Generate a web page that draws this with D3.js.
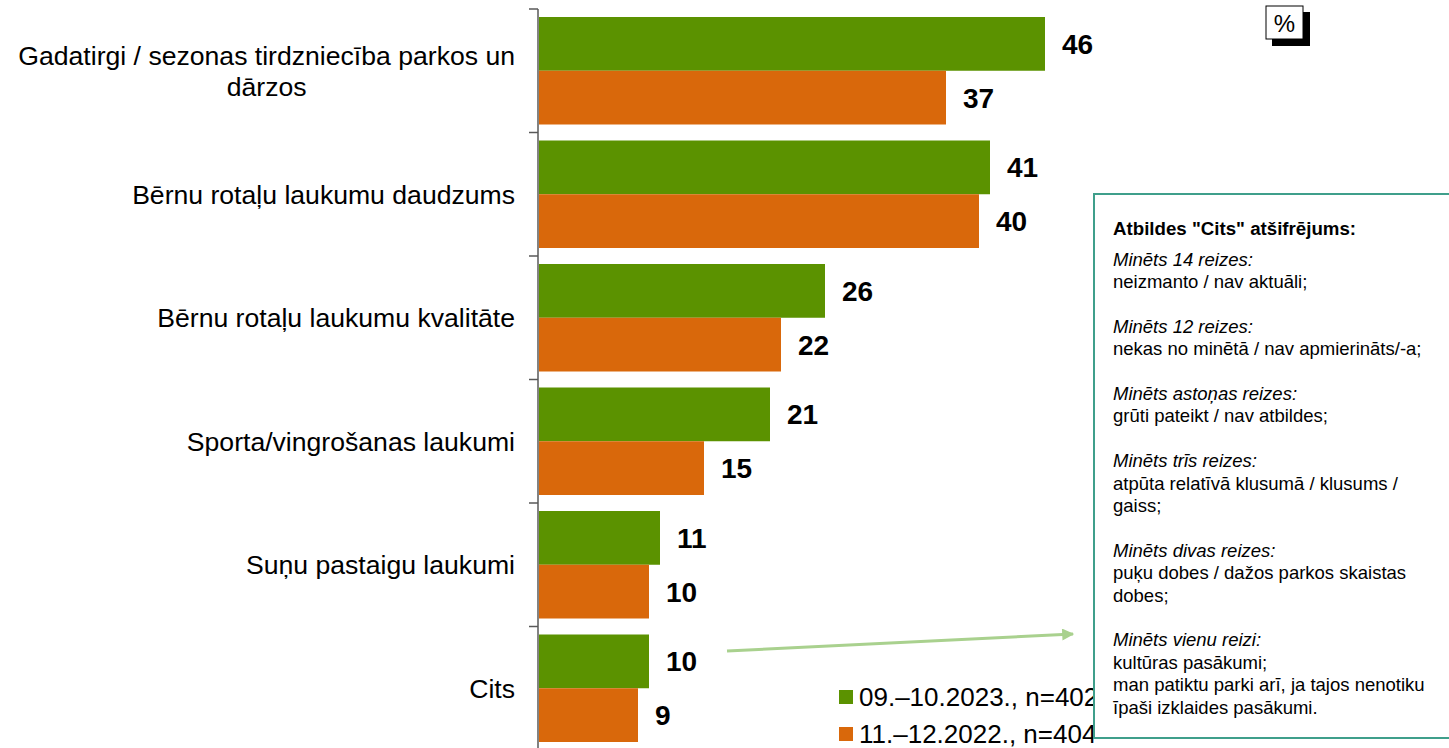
<!DOCTYPE html>
<html lang="lv">
<head>
<meta charset="utf-8">
<title>Cits</title>
<style>
  body { margin: 0; background: #fff; }
  svg { display: block; font-family: "Liberation Sans", Arial, sans-serif; }
</style>
</head>
<body>
<svg id="chart" width="1449" height="748"></svg>
<script src="https://cdn.jsdelivr.net/npm/d3@7"></script>
<script>
// categories, top to bottom
const categories = [
    "Gadatirgi / sezonas tirdzniecība parkos un\ndārzos",
    "Bērnu rotaļu laukumu daudzums",
    "Bērnu rotaļu laukumu kvalitāte",
    "Sporta/vingrošanas laukumi",
    "Suņu pastaigu laukumi",
    "Cits"
];
const seriesNames = ["09.–10.2023., n=402", "11.–12.2022., n=404"];
const values2023 = [46, 41, 26, 21, 11, 10];
const values2022 = [37, 40, 22, 15, 10, 9];
const colors = ["#5b9200", "#d9680b"];

const noteTitle = "Atbildes \"Cits\" atšifrējums:";
const noteLines = [
    ["i", "Minēts 14 reizes:"], ["n", "neizmanto / nav aktuāli;"], ["", ""],
    ["i", "Minēts 12 reizes:"], ["n", "nekas no minētā / nav apmierināts/-a;"], ["", ""],
    ["i", "Minēts astoņas reizes:"], ["n", "grūti pateikt / nav atbildes;"], ["", ""],
    ["i", "Minēts trīs reizes:"], ["n", "atpūta relatīvā klusumā / klusums /"], ["n", "gaiss;"], ["", ""],
    ["i", "Minēts divas reizes:"], ["n", "puķu dobes / dažos parkos skaistas"], ["n", "dobes;"], ["", ""],
    ["i", "Minēts vienu reizi:"], ["n", "kultūras pasākumi;"], ["n", "man patiktu parki arī, ja tajos nenotiku"], ["n", "īpaši izklaides pasākumi."]
];

const svg = d3.select("#chart");

const x = d3.scaleLinear().domain([0, 46]).range([539, 1045]);
const y = d3.scaleBand().domain(d3.range(categories.length)).range([9, 750]);
const ySub = d3.scaleBand().domain([0, 1]).range([8, y.bandwidth() - 8]);

const data = categories.map((c, i) => ({ i, c, vals: [values2023[i], values2022[i]] }));

// bars
const groups = svg.append("g").selectAll("g")
    .data(data)
    .join("g")
    .attr("transform", d => `translate(0,${y(d.i)})`);

groups.selectAll("rect")
    .data(d => d.vals.map((v, s) => ({ v, s })))
    .join("rect")
    .attr("x", x(0))
    .attr("y", d => ySub(d.s))
    .attr("width", d => x(d.v) - x(0))
    .attr("height", ySub.bandwidth())
    .attr("fill", d => colors[d.s]);

groups.selectAll("text.val")
    .data(d => d.vals.map((v, s) => ({ v, s })))
    .join("text")
    .attr("class", "val")
    .attr("x", d => x(d.v) + 17)
    .attr("y", d => ySub(d.s) + ySub.bandwidth() / 2)
    .attr("dy", "0.36em")
    .attr("font-size", 28)
    .attr("font-weight", "bold")
    .text(d => d.v);

// axis line + ticks at band edges
const axis = svg.append("g").attr("stroke", "#595959").attr("stroke-width", 1.5);
axis.append("line")
    .attr("x1", 538).attr("x2", 538)
    .attr("y1", y.range()[0]).attr("y2", 748);
axis.selectAll("line.tick")
    .data(d3.range(categories.length + 1))
    .join("line")
    .attr("class", "tick")
    .attr("x1", 529).attr("x2", 538)
    .attr("y1", i => y.range()[0] + i * y.step())
    .attr("y2", i => y.range()[0] + i * y.step());

// category labels: block right-aligned, lines centred within the block
const labelRight = 515;
const labels = svg.append("g").selectAll("text")
    .data(data)
    .join("text")
    .attr("text-anchor", "middle")
    .attr("font-size", 26.6)
    .attr("fill", "#000");
labels.each(function (d) {
    const lines = d.c.split("\n");
    const cy = y(d.i) + y.bandwidth() / 2;
    const lh = 31;
    const t = d3.select(this);
    const spans = t.selectAll("tspan")
        .data(lines)
        .join("tspan")
        .attr("y", (l, k) => cy + (k - (lines.length - 1) / 2) * lh)
        .attr("dy", "0.36em")
        .text(l => l);
    let w = 0;
    spans.each(function () { w = Math.max(w, this.getComputedTextLength()); });
    spans.attr("x", labelRight - w / 2);
});

// legend
const legend = svg.append("g").selectAll("g")
    .data(seriesNames)
    .join("g")
    .attr("transform", (d, i) => `translate(839,${697 + i * 37})`);
legend.append("rect")
    .attr("y", -7).attr("width", 14).attr("height", 14)
    .attr("fill", (d, i) => colors[i]);
legend.append("text")
    .attr("x", 20).attr("dy", "0.36em")
    .attr("font-size", 26)
    .text(d => d);

// arrow to note
const defs = svg.append("defs");
defs.append("marker")
    .attr("id", "arrow")
    .attr("viewBox", "0 0 10 10")
    .attr("refX", 9).attr("refY", 5)
    .attr("markerWidth", 5).attr("markerHeight", 4)
    .attr("markerUnits", "strokeWidth")
    .attr("orient", "auto")
    .append("path").attr("d", "M0,0L10,5L0,10Z").attr("fill", "#a9d18e");
svg.append("line")
    .attr("x1", 727).attr("y1", 651)
    .attr("x2", 1073).attr("y2", 634)
    .attr("stroke", "#a9d18e").attr("stroke-width", 3)
    .attr("marker-end", "url(#arrow)");

// note box
svg.append("rect")
    .attr("x", 1094).attr("y", 194)
    .attr("width", 400).attr("height", 544)
    .attr("fill", "#fff")
    .attr("stroke", "#3f9f8b").attr("stroke-width", 2);
svg.append("text")
    .attr("x", 1113).attr("y", 228).attr("dy", "0.36em")
    .attr("font-size", 18.7).attr("font-weight", "bold")
    .text(noteTitle);
svg.append("g").selectAll("text")
    .data(noteLines)
    .join("text")
    .attr("x", 1113)
    .attr("y", (d, k) => 259 + k * 22.4)
    .attr("dy", "0.36em")
    .attr("font-size", 18.5)
    .attr("font-style", d => d[0] === "i" ? "italic" : "normal")
    .text(d => d[1]);

// % badge
svg.append("rect").attr("x", 1272).attr("y", 12).attr("width", 38).attr("height", 34).attr("fill", "#000");
svg.append("rect").attr("x", 1266).attr("y", 6).attr("width", 37).attr("height", 33)
    .attr("fill", "#fff").attr("stroke", "#000").attr("stroke-width", 1);
svg.append("text").attr("x", 1284.5).attr("y", 23).attr("dy", "0.36em")
    .attr("text-anchor", "middle").attr("font-size", 24).text("%");
</script>
</body>
</html>
